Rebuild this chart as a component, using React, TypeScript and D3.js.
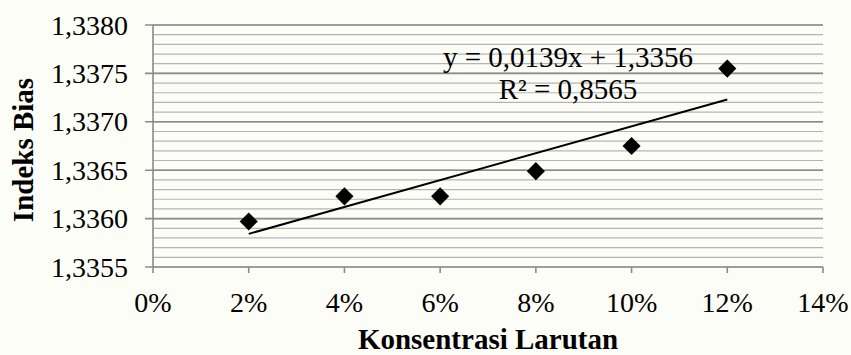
import React, { useEffect, useRef } from "react";
import * as d3 from "d3";

// konsentrasi larutan (fraksi) dan indeks bias
const konsentrasi = [0.02, 0.04, 0.06, 0.08, 0.1, 0.12];
const indeksBias = [1.33597, 1.33623, 1.33623, 1.33649, 1.33675, 1.33755];
const xTicks = [0, 0.02, 0.04, 0.06, 0.08, 0.1, 0.12, 0.14];
const yMajorTicks = [1.3355, 1.336, 1.3365, 1.337, 1.3375, 1.338];
const persamaan = ["y = 0,0139x + 1,3356", "R² = 0,8565"];

const width = 851;
const height = 355;
const margin = { top: 25, right: 28, bottom: 88, left: 153 };
const font = "'Liberation Serif', 'Times New Roman', serif";

const fmtY = (v: number) => v.toFixed(4).replace(".", ",");
const fmtX = (v: number) => Math.round(v * 100) + "%";

const App = () => {
  const svgRef = useRef<SVGSVGElement>(null);

  useEffect(() => {
    const svg = d3.select(svgRef.current);
    svg.selectAll("*").remove();

    const x = d3
      .scaleLinear()
      .domain([0, 0.14])
      .range([margin.left, width - margin.right]);
    const y = d3
      .scaleLinear()
      .domain([1.3355, 1.338])
      .range([height - margin.bottom, margin.top]);

    svg.append("rect").attr("width", width).attr("height", height).attr("fill", "#fdfdf8");

    // minor gridlines every 0.0001
    const minor = d3.range(0, 26).map((i) => 1.3355 + i * 0.0001);
    svg
      .append("g")
      .selectAll("line")
      .data(minor)
      .enter()
      .append("line")
      .attr("x1", x(0))
      .attr("x2", x(0.14))
      .attr("y1", (d) => y(d))
      .attr("y2", (d) => y(d))
      .attr("stroke", "#b4b4b4")
      .attr("stroke-width", 1.2);

    // major gridlines
    svg
      .append("g")
      .selectAll("line")
      .data(yMajorTicks)
      .enter()
      .append("line")
      .attr("x1", x(0) - 8)
      .attr("x2", x(0.14))
      .attr("y1", (d) => y(d))
      .attr("y2", (d) => y(d))
      .attr("stroke", "#8a8a8a")
      .attr("stroke-width", 1.6);

    // y axis line
    svg
      .append("line")
      .attr("x1", x(0))
      .attr("x2", x(0))
      .attr("y1", y(1.338))
      .attr("y2", y(1.3355))
      .attr("stroke", "#8a8a8a")
      .attr("stroke-width", 1.6);

    // x axis ticks
    svg
      .append("g")
      .selectAll("line")
      .data(xTicks)
      .enter()
      .append("line")
      .attr("x1", (d) => x(d))
      .attr("x2", (d) => x(d))
      .attr("y1", y(1.3355))
      .attr("y2", y(1.3355) + 6)
      .attr("stroke", "#8a8a8a")
      .attr("stroke-width", 1.6);

    // y tick labels
    svg
      .append("g")
      .selectAll("text")
      .data(yMajorTicks)
      .enter()
      .append("text")
      .attr("x", x(0) - 25)
      .attr("y", (d) => y(d))
      .attr("dy", "0.34em")
      .attr("text-anchor", "end")
      .style("font-family", font)
      .style("font-size", "28px")
      .style("fill", "#000")
      .text((d) => fmtY(d));

    // x tick labels
    svg
      .append("g")
      .selectAll("text")
      .data(xTicks)
      .enter()
      .append("text")
      .attr("x", (d) => x(d))
      .attr("y", 312)
      .attr("text-anchor", "middle")
      .style("font-family", font)
      .style("font-size", "28px")
      .style("fill", "#000")
      .text((d) => fmtX(d));

    // axis titles
    svg
      .append("text")
      .attr("x", (x(0) + x(0.14)) / 2)
      .attr("y", 349)
      .attr("text-anchor", "middle")
      .style("font-family", font)
      .style("font-size", "29px")
      .style("font-weight", "bold")
      .text("Konsentrasi Larutan");

    svg
      .append("text")
      .attr("transform", `translate(33, ${150}) rotate(-90)`)
      .attr("text-anchor", "middle")
      .style("font-family", font)
      .style("font-size", "29px")
      .style("font-weight", "bold")
      .text("Indeks Bias");

    // linear trendline (least squares)
    const mx = d3.mean(konsentrasi) as number;
    const my = d3.mean(indeksBias) as number;
    let sxy = 0;
    let sxx = 0;
    konsentrasi.forEach((k, i) => {
      sxy += (k - mx) * (indeksBias[i] - my);
      sxx += (k - mx) * (k - mx);
    });
    const slope = sxy / sxx;
    const intercept = my - slope * mx;
    const ends = [d3.min(konsentrasi) as number, d3.max(konsentrasi) as number];
    const line = d3
      .line<number>()
      .x((d) => x(d))
      .y((d) => y(slope * d + intercept));
    svg
      .append("path")
      .datum(ends)
      .attr("fill", "none")
      .attr("stroke", "#000")
      .attr("stroke-width", 2)
      .attr("d", line);

    // data points (diamonds)
    svg
      .append("g")
      .selectAll("path")
      .data(konsentrasi)
      .enter()
      .append("path")
      .attr("transform", (d, i) => `translate(${x(d)},${y(indeksBias[i])})`)
      .attr("d", d3.symbol().type(d3.symbolDiamond2).size(210))
      .attr("fill", "#000");

    // equation label
    svg
      .append("g")
      .selectAll("text")
      .data(persamaan)
      .enter()
      .append("text")
      .attr("x", 568)
      .attr("y", (d, i) => 67 + i * 32)
      .attr("text-anchor", "middle")
      .style("font-family", font)
      .style("font-size", "29px")
      .style("fill", "#000")
      .text((d) => d);
  }, []);

  return (
    <svg
      ref={svgRef}
      width={width}
      height={height}
      style={{ position: "absolute", left: 0, top: 0 }}
    ></svg>
  );
};

export default App;
